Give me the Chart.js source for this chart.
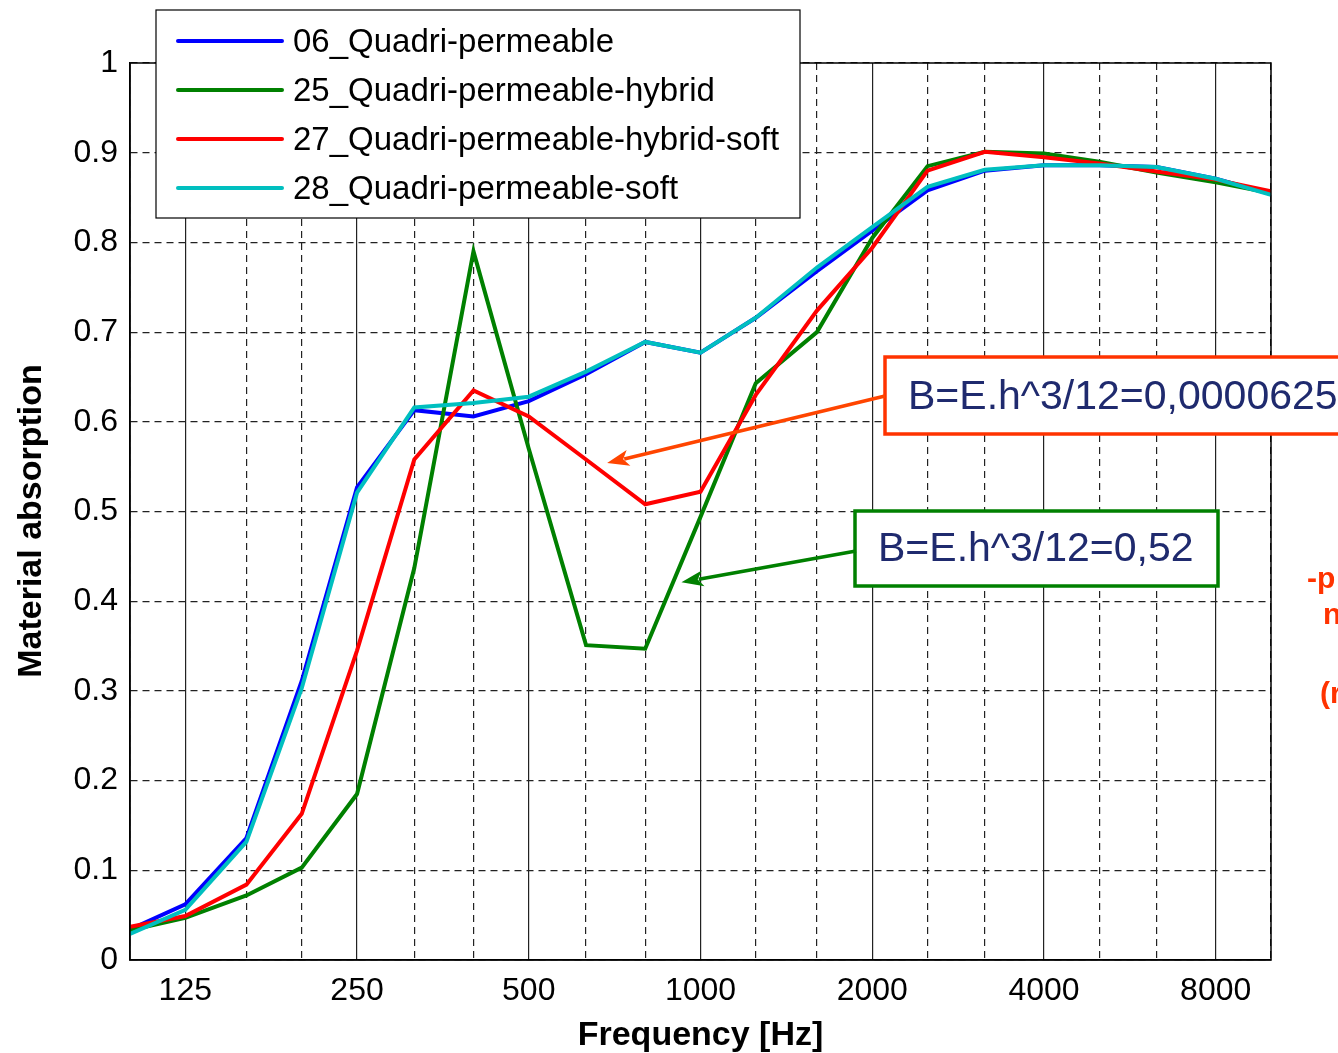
<!DOCTYPE html>
<html>
<head>
<meta charset="utf-8">
<title>Material absorption</title>
<script src="https://cdn.jsdelivr.net/npm/chart.js@4.4.1/dist/chart.umd.min.js"></script>
<style>
    html, body { margin: 0; padding: 0; background: #ffffff; }
    #wrap { width: 1338px; height: 1053px; overflow: hidden; }
</style>
</head>
<body>
<div id="wrap"><canvas id="absorptionChart" width="1338" height="1053"></canvas></div>
<script>
// Third-octave band centre frequencies (Hz)
const frequencies = [100, 125, 160, 200, 250, 315, 400, 500, 630, 800, 1000,
    1250, 1600, 2000, 2500, 3150, 4000, 5000, 6300, 8000, 10000];

// Labelled octave ticks
const octaveTicks = [125, 250, 500, 1000, 2000, 4000, 8000];

// Absorption values
const quadri06 = [0.034, 0.062, 0.136, 0.311, 0.527, 0.613, 0.606, 0.623, 0.653, 0.689, 0.677,
    0.716, 0.768, 0.813, 0.858, 0.880, 0.886, 0.886, 0.884, 0.871, 0.854];
const quadri25 = [0.033, 0.047, 0.072, 0.103, 0.185, 0.437, 0.790, 0.570, 0.351, 0.347, 0.494,
    0.643, 0.700, 0.805, 0.885, 0.901, 0.899, 0.890, 0.878, 0.867, 0.855];
const quadri27 = [0.037, 0.049, 0.084, 0.163, 0.345, 0.558, 0.635, 0.606, 0.558, 0.508, 0.522,
    0.630, 0.724, 0.794, 0.880, 0.901, 0.895, 0.888, 0.879, 0.870, 0.857];
const quadri28 = [0.029, 0.056, 0.132, 0.303, 0.521, 0.616, 0.621, 0.628, 0.656, 0.689, 0.677,
    0.716, 0.772, 0.817, 0.862, 0.881, 0.886, 0.886, 0.884, 0.871, 0.853];

const seriesNames = [
    "06_Quadri-permeable",
    "25_Quadri-permeable-hybrid",
    "27_Quadri-permeable-hybrid-soft",
    "28_Quadri-permeable-soft",
];
const seriesValues = [quadri06, quadri25, quadri27, quadri28];
const seriesColors = ["#0000ff", "#008000", "#ff0000", "#00bfbf"];

const FONT = "'Liberation Sans', Arial, Helvetica, sans-serif";
const NAVY = "#1f2a6e";

/**
 * Frame round the plot area (MATLAB "box on")
 */
const framePlugin = {
    id: "frame",
    afterDatasetsDraw(chart) {
        const { ctx, chartArea: a } = chart;
        ctx.save();
        ctx.strokeStyle = "#000000";
        ctx.lineWidth = 1.5;
        ctx.strokeRect(a.left, a.top, a.right - a.left, a.bottom - a.top);
        ctx.restore();
    },
};

/**
 * Draw an arrow with a filled head
 */
function drawArrow(ctx, x1, y1, x2, y2, color) {
    const angle = Math.atan2(y2 - y1, x2 - x1);
    const headLen = 22;
    const headHalf = 8;
    ctx.save();
    ctx.strokeStyle = color;
    ctx.fillStyle = color;
    ctx.lineWidth = 3.5;
    ctx.beginPath();
    ctx.moveTo(x1, y1);
    ctx.lineTo(x2 - Math.cos(angle) * headLen * 0.8, y2 - Math.sin(angle) * headLen * 0.8);
    ctx.stroke();
    ctx.translate(x2, y2);
    ctx.rotate(angle);
    ctx.beginPath();
    ctx.moveTo(0, 0);
    ctx.lineTo(-headLen, -headHalf);
    ctx.lineTo(-headLen * 0.75, 0);
    ctx.lineTo(-headLen, headHalf);
    ctx.closePath();
    ctx.fill();
    ctx.restore();
}

/**
 * Legend box, the two text callouts and the y title
 */
const overlayPlugin = {
    id: "overlay",
    afterDraw(chart) {
        const ctx = chart.ctx;
        const xs = chart.scales.x;
        const ys = chart.scales.y;

        // Legend
        ctx.save();
        ctx.fillStyle = "#ffffff";
        ctx.fillRect(156, 10, 644, 208);
        ctx.strokeStyle = "#000000";
        ctx.lineWidth = 1.2;
        ctx.strokeRect(156, 10, 644, 208);
        ctx.font = `33px ${FONT}`;
        ctx.textBaseline = "middle";
        seriesNames.forEach((name, i) => {
            const y = 41 + i * 49;
            ctx.strokeStyle = seriesColors[i];
            ctx.lineWidth = 4;
            ctx.lineCap = "round";
            ctx.beginPath();
            ctx.moveTo(178, y);
            ctx.lineTo(282, y);
            ctx.stroke();
            ctx.fillStyle = "#000000";
            ctx.fillText(name, 293, y + 2);
        });
        ctx.restore();

        // Callout boxes
        ctx.save();
        ctx.fillStyle = "#ffffff";
        ctx.fillRect(885, 357, 460, 77);
        ctx.fillRect(855, 511, 363, 75);
        ctx.lineWidth = 3.5;
        ctx.strokeStyle = "#ff3300";
        ctx.strokeRect(885, 357, 470, 77);
        ctx.strokeStyle = "#008000";
        ctx.strokeRect(855, 511, 363, 75);
        ctx.fillStyle = NAVY;
        ctx.font = `41px ${FONT}`;
        ctx.textBaseline = "middle";
        ctx.fillText("B=E.h^3/12=0,0000625", 908, 398);
        ctx.fillText("B=E.h^3/12=0,52", 878, 550);
        ctx.restore();

        // Arrows point at the curves (tips in data space)
        drawArrow(ctx, 885, 396, xs.getPixelForValue(686), ys.getPixelForValue(0.554), "#ff4500");
        drawArrow(ctx, 856, 551, xs.getPixelForValue(926), ys.getPixelForValue(0.421), "#008000");

        // Clipped slide text on the right edge
        ctx.save();
        ctx.fillStyle = "#ff3300";
        ctx.font = `bold 30px ${FONT}`;
        ctx.textBaseline = "alphabetic";
        ctx.fillText("-p", 1307, 588);
        ctx.fillText("n", 1323, 624);
        ctx.fillText("(r", 1320, 703);
        ctx.restore();

        // Y axis title, placed as in the reference
        ctx.save();
        ctx.translate(32, 521);
        ctx.rotate(-Math.PI / 2);
        ctx.fillStyle = "#000000";
        ctx.font = `bold 34px ${FONT}`;
        ctx.textAlign = "center";
        ctx.textBaseline = "middle";
        ctx.fillText("Material absorption", 0, 0);
        ctx.restore();
    },
};

const datasets = seriesNames.map((name, i) => ({
    label: name,
    data: frequencies.map((f, j) => ({ x: f, y: seriesValues[i][j] })),
    borderColor: seriesColors[i],
    backgroundColor: seriesColors[i],
    borderWidth: 4,
    pointRadius: 0,
    tension: 0,
    fill: false,
    order: seriesNames.length - i,
}));

new Chart(document.getElementById("absorptionChart"), {
    type: "line",
    data: { datasets },
    options: {
        responsive: false,
        animation: false,
        layout: { padding: { top: 63, right: 67, left: 0, bottom: 0 } },
        plugins: {
            legend: { display: false },
            tooltip: { enabled: false },
        },
        scales: {
            x: {
                type: "logarithmic",
                min: 100,
                max: 10000,
                afterBuildTicks(scale) {
                    scale.ticks = frequencies.map((v) => ({ value: v }));
                },
                afterFit(scale) {
                    scale.height = 93;
                },
                ticks: {
                    autoSkip: false,
                    maxRotation: 0,
                    padding: 12,
                    color: "#000000",
                    font: { family: FONT, size: 32 },
                    callback: (value) => (octaveTicks.includes(value) ? String(value) : ""),
                },
                grid: {
                    drawTicks: false,
                    color: "#222222",
                    lineWidth: 1.2,
                },
                border: {
                    display: true,
                    color: "#000000",
                    width: 1.5,
                    dash: (ctx) => (ctx.tick && octaveTicks.includes(ctx.tick.value) ? [] : [7, 5]),
                },
                title: {
                    display: true,
                    text: "Frequency [Hz]",
                    color: "#000000",
                    font: { family: FONT, size: 34, weight: "bold", lineHeight: 1.0 },
                    padding: { top: 0, bottom: 0 },
                },
            },
            y: {
                min: 0,
                max: 1,
                afterFit(scale) {
                    scale.width = 130;
                },
                ticks: {
                    stepSize: 0.1,
                    padding: 12,
                    color: "#000000",
                    font: { family: FONT, size: 32 },
                    callback: (value) => String(Math.round(value * 10) / 10),
                },
                grid: {
                    drawTicks: false,
                    color: "#222222",
                    lineWidth: 1.2,
                },
                border: {
                    display: true,
                    color: "#000000",
                    width: 1.5,
                    dash: [7, 5],
                },
                title: { display: false },
            },
        },
    },
    plugins: [framePlugin, overlayPlugin],
});
</script>
</body>
</html>
